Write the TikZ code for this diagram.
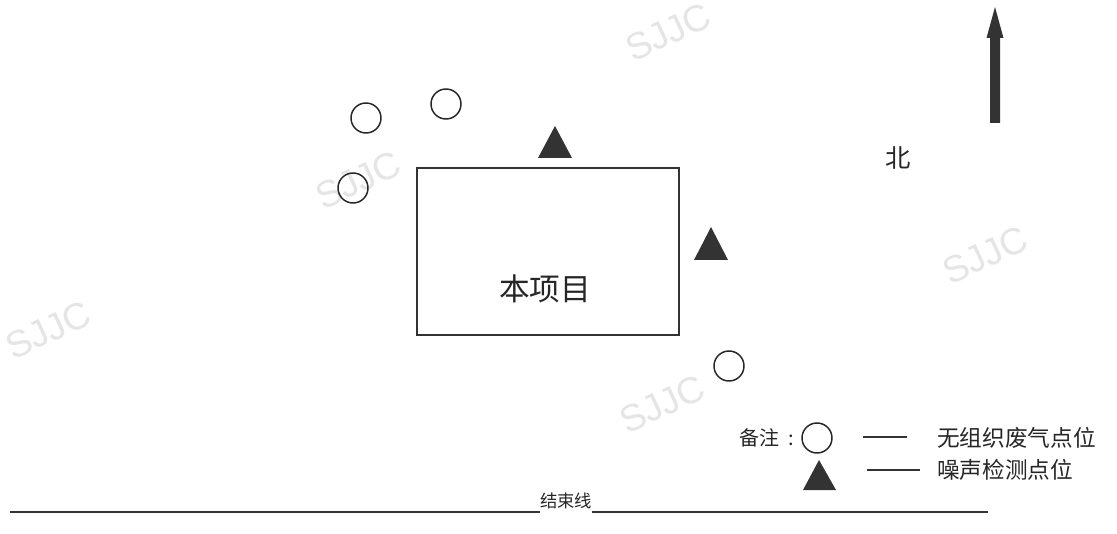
\documentclass[tikz,border=0pt]{standalone}
\usepackage{fontspec}
\setmainfont{Liberation Sans}
\newfontfamily\cjk{Noto Sans CJK SC}
\tikzset{
  pt/.style={circle,draw=black!85,line width=1.1pt,minimum size=22.5pt,inner sep=0pt},
  tri/.style={fill=black!80,draw=none},
  wm/.style={text=black!10,font=\fontsize{28}{28}\selectfont,rotate=25},
  lbl/.style={text=black!85,inner sep=0pt},
}
\begin{document}
\begin{tikzpicture}[x=0.75pt,y=-0.75pt]
\useasboundingbox[fill=white] (0,0) rectangle (1117,534);
% watermarks
\node[wm] (w1) at (668,32) {SJJC};
\node[wm] (w2) at (358,180) {SJJC};
\node[wm] (w3) at (985,255) {SJJC};
\node[wm] (w4) at (48,330) {SJJC};
\node[wm] (w5) at (662,404) {SJJC};
% project box
\draw[black!80,line width=0.9pt] (417,168) rectangle (679,335);
\node[lbl] (proj) at (545,289) {\cjk\fontsize{23}{23}\selectfont 本项目};
% circles
\node[pt] (c1) at (366,118) {};
\node[pt] (c2) at (446,104) {};
\node[pt] (c3) at (353,188) {};
\node[pt] (c4) at (729,366) {};
% triangles
\fill[tri] (555,126) -- (572,158) -- (538,158) -- cycle;
\fill[tri] (711,227) -- (728,260) -- (694,260) -- cycle;
% north arrow
\fill[black!80] (990,123) -- (990,38) -- (986.5,38) -- (995,7) -- (1003.5,38) -- (1000,38) -- (1000,123) -- cycle;
\node[lbl] (north) at (898,158) {\cjk\fontsize{19}{19}\selectfont 北};
% legend
\node[lbl,anchor=east] (note) at (794,438) {\cjk\fontsize{15}{15}\selectfont 备注\ \ :};
\node[pt] (lc) at (817,438) {};
\draw[black!80,line width=0.8pt] (863,437) -- (907,437);
\node[lbl,anchor=west] (l1) at (937,438) {\cjk\fontsize{17}{17}\selectfont 无组织废气点位};
\fill[tri] (819,460) -- (836,490) -- (803,490) -- cycle;
\draw[black!80,line width=0.8pt] (867,470) -- (920,470);
\node[lbl,anchor=west] (l2) at (937,470) {\cjk\fontsize{17}{17}\selectfont 噪声检测点位};
% end line
\node[lbl,anchor=south] (endl) at (566,509) {\cjk\fontsize{13}{13}\selectfont 结束线};
\draw[black!80,line width=0.8pt] (10,512) -- (540,512);
\draw[black!80,line width=0.8pt] (592,512) -- (988,512);
\end{tikzpicture}
\end{document}
